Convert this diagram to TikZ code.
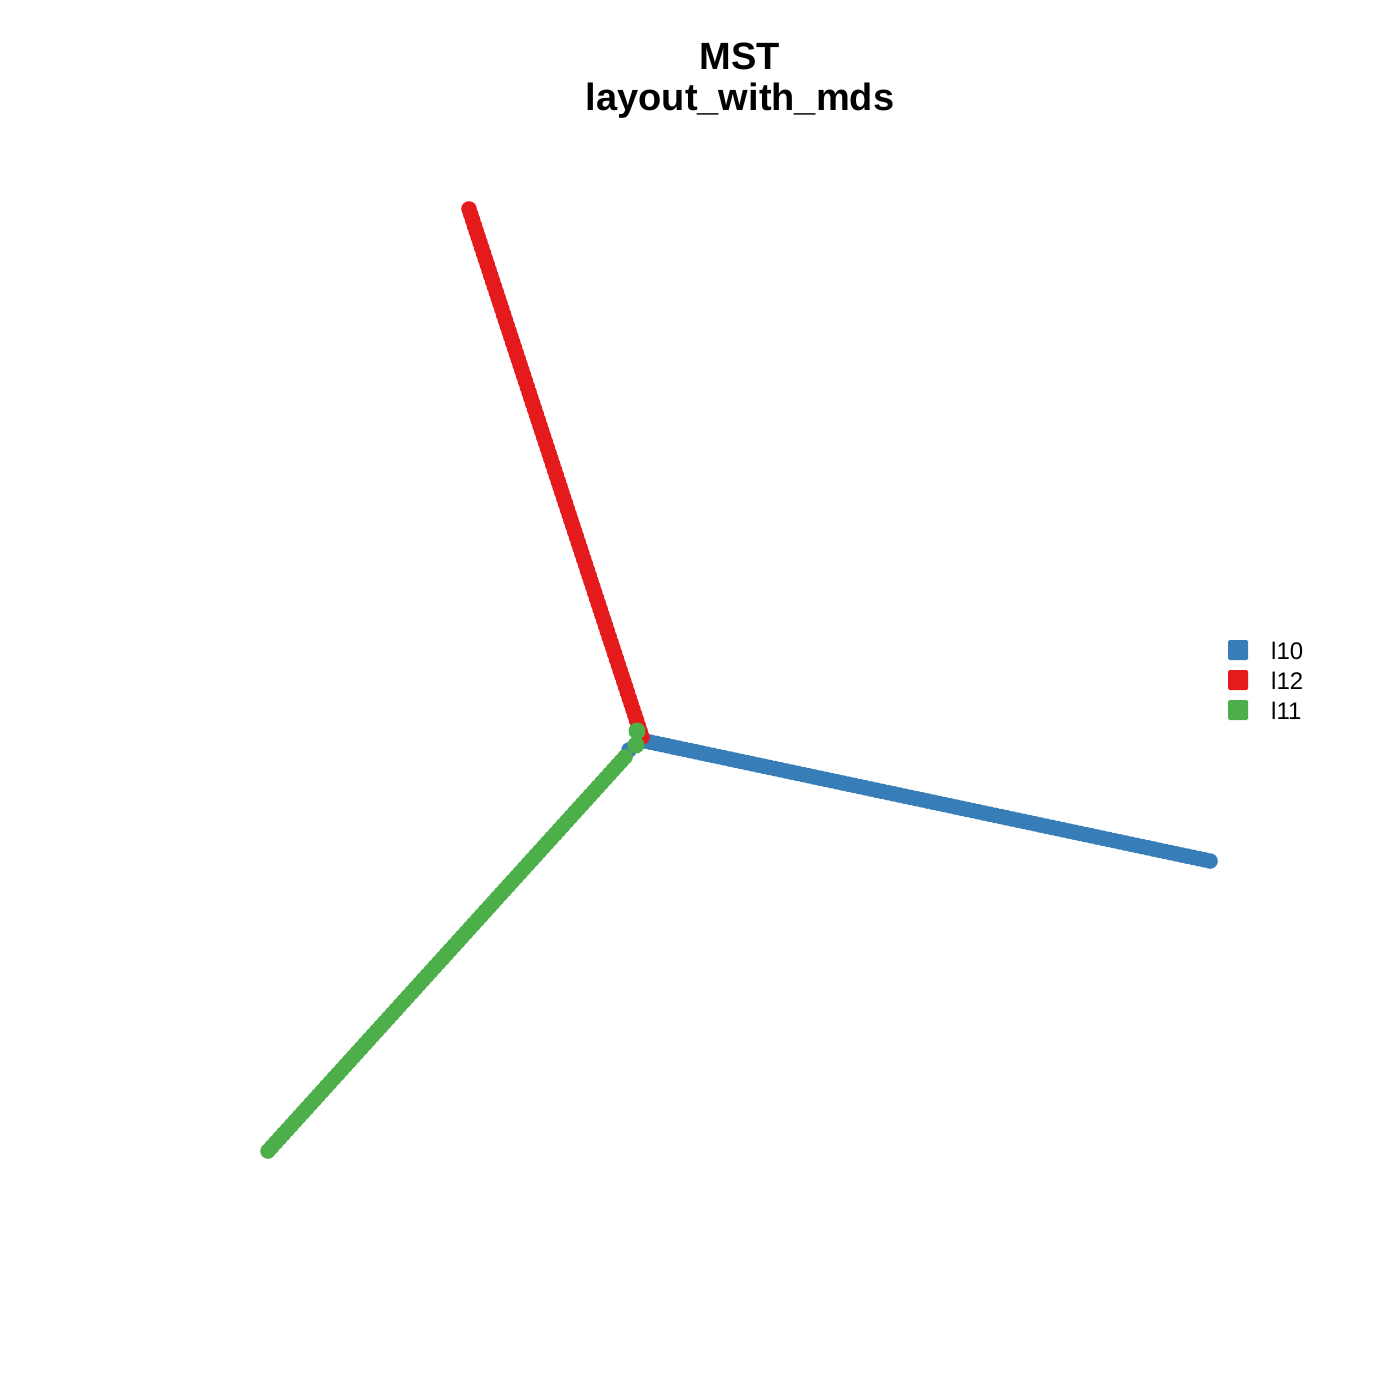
\documentclass[tikz,border=0pt]{standalone}
\usepackage{fontspec}
\setmainfont{Liberation Sans}
\usetikzlibrary{calc}
\definecolor{setblue}{HTML}{377EB8}
\definecolor{setred}{HTML}{E41A1C}
\definecolor{setgreen}{HTML}{4DAF4A}
\begin{document}
\begin{tikzpicture}[x=1pt,y=-1pt,
  titletext/.style={font=\fontsize{38}{44}\selectfont\bfseries,anchor=base,inner sep=0},
  legtext/.style={font=\fontsize{24}{28}\selectfont,anchor=west,inner sep=0},
  legbox/.style={minimum size=20pt,inner sep=0,rounded corners=1.5pt}]
\useasboundingbox (0,0) rectangle (1400,1400);
\fill[white] (0,0) rectangle (1400,1400);
% title
\node[titletext] (t1) at (740,69) {MST};
\node[titletext] (t2) at (740,110) {layout\_with\_mds};
% branch end points
\coordinate (rA) at (469,209);
\coordinate (rB) at (642,737);
\coordinate (bA) at (645,741);
\coordinate (bB) at (1210,861);
\coordinate (gA) at (625,757);
\coordinate (gB) at (268,1151);
% blue branch
\foreach \t in {0,...,100} {
  \fill[setblue] ($(bA)!\t/100!(bB)$) circle (7.8);
}
\fill[setblue] (629,750) circle (7.8);
% red branch
\foreach \t in {0,...,95} {
  \fill[setred] ($(rA)!\t/95!(rB)$) circle (7.8);
}
% green branch
\foreach \t in {0,...,92} {
  \fill[setgreen] ($(gA)!\t/92!(gB)$) circle (7.8);
}
\fill[setgreen] (637,731) circle (8.5);
\fill[setgreen] (636,745) circle (8.5);
% legend
\node[legbox,fill=setblue] (k1) at (1238,650) {};
\node[legbox,fill=setred] (k2) at (1238,680) {};
\node[legbox,fill=setgreen] (k3) at (1238,710) {};
\node[legtext] (l1) at (1271,651) {l10};
\node[legtext] (l2) at (1271,681) {l12};
\node[legtext] (l3) at (1271,711) {l11};
\end{tikzpicture}
\end{document}
